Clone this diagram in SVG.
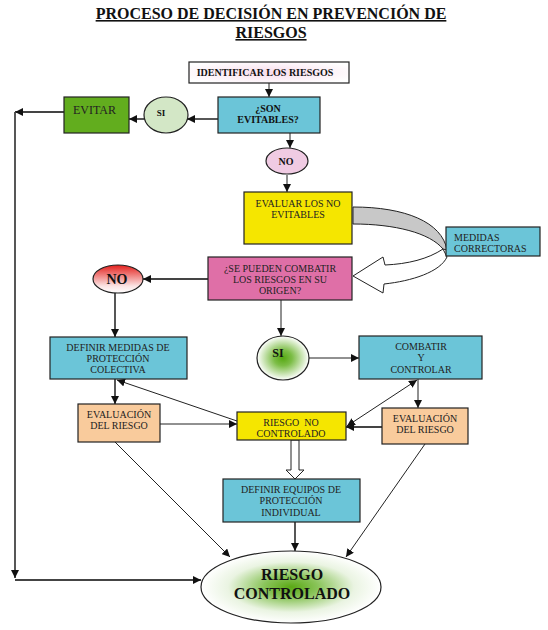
<svg xmlns="http://www.w3.org/2000/svg" width="548" height="630" viewBox="0 0 548 630">
<defs>
<style>
.t{font-family:"Liberation Serif","Times New Roman",serif;fill:#222;text-anchor:middle;font-size:10px}
.b{font-weight:bold;fill:#111}
.box{stroke:#222;stroke-width:1.2}
.ln{fill:none;stroke:#222;stroke-width:1}
.lg{fill:none;stroke:#444;stroke-width:1.8}
</style>
<marker id="ah" viewBox="0 0 10 10" refX="10" refY="5" markerWidth="8" markerHeight="8" markerUnits="userSpaceOnUse" orient="auto-start-reverse"><path d="M0,0 L10,5 L0,10 Z" fill="#111"/></marker>
<linearGradient id="gRed" x1="0" y1="0" x2="0" y2="1"><stop offset="0" stop-color="#e4201c"/><stop offset="0.75" stop-color="#fbe4e4"/><stop offset="1" stop-color="#ffffff"/></linearGradient>
<radialGradient id="gGreen" cx="0.5" cy="0.5" r="0.5"><stop offset="0" stop-color="#56a812"/><stop offset="0.35" stop-color="#7cbd46"/><stop offset="1" stop-color="#ffffff"/></radialGradient>
<radialGradient id="gGreen2" cx="0.5" cy="0.5" r="0.5"><stop offset="0" stop-color="#5aa814"/><stop offset="0.3" stop-color="#8ac45a"/><stop offset="0.7" stop-color="#eaf4e2"/><stop offset="1" stop-color="#ffffff"/></radialGradient>
<radialGradient id="gPink" cx="0.5" cy="0.5" r="0.6"><stop offset="0" stop-color="#f8dcec"/><stop offset="1" stop-color="#ffffff"/></radialGradient>
</defs>
<rect width="548" height="630" fill="#fff"/>

<g id="title">
<text class="t b" x="271" y="19" style="font-size:16px;text-decoration:underline">PROCESO DE DECISIÓN EN PREVENCIÓN DE</text>
<text class="t b" x="271" y="38" style="font-size:16px;text-decoration:underline">RIESGOS</text>
</g>

<g id="connectors">
<line class="ln" x1="269" y1="83" x2="269" y2="97" marker-end="url(#ah)"/>
<line class="lg" x1="218" y1="119" x2="187" y2="119" marker-end="url(#ah)"/>
<line class="lg" x1="144" y1="119" x2="129" y2="119" marker-end="url(#ah)"/>
<line class="lg" x1="64" y1="112" x2="15" y2="112" marker-end="url(#ah)"/>
<line class="lg" x1="15" y1="112" x2="15" y2="578" marker-end="url(#ah)"/>
<line class="lg" x1="15" y1="580" x2="201" y2="580" marker-end="url(#ah)"/>
<line class="ln" x1="290" y1="133" x2="290" y2="148" marker-end="url(#ah)"/>
<line class="ln" x1="287" y1="175" x2="287" y2="192" marker-end="url(#ah)"/>
<line class="lg" x1="208" y1="279" x2="143" y2="279" marker-end="url(#ah)"/>
<line class="lg" x1="115" y1="293" x2="115" y2="337" marker-end="url(#ah)"/>
<line class="ln" x1="281" y1="300" x2="281" y2="336" marker-end="url(#ah)"/>
<line class="ln" x1="309" y1="358" x2="359" y2="358" marker-end="url(#ah)"/>
<line class="ln" x1="418" y1="379" x2="418" y2="408" marker-end="url(#ah)"/>
<line class="ln" x1="417" y1="380" x2="347" y2="426" marker-start="url(#ah)" marker-end="url(#ah)"/>
<line class="lg" x1="382" y1="427" x2="346" y2="427" marker-end="url(#ah)"/>
<line class="lg" x1="115" y1="379" x2="115" y2="404" marker-end="url(#ah)"/>
<line class="ln" x1="160" y1="424" x2="237" y2="424" marker-end="url(#ah)"/>
<line class="ln" x1="237" y1="421" x2="117" y2="380" marker-end="url(#ah)"/>
<line class="ln" x1="115" y1="442" x2="230" y2="557" marker-end="url(#ah)"/>
<line class="ln" x1="425" y1="444" x2="346" y2="557" marker-end="url(#ah)"/>
<line class="lg" x1="295" y1="522" x2="295" y2="551" marker-end="url(#ah)"/>
<path d="M291,440 L299,440 L299,470 L304,470 L295,479 L286,470 L291,470 Z" fill="#fff" stroke="#222" stroke-width="1"/>
<path d="M353,207 C405,207 442,222 447,250 L443,249 C430,233 395,224 353,224 Z" fill="#c8c8c8" stroke="#222" stroke-width="1"/>
<path d="M443,249 C428,259 408,264 385,265 L383,257 L353,276 L383,293 L384,284 C412,281 440,272 447,257 Z" fill="#fff" stroke="#222" stroke-width="1"/>
</g>

<g id="identificar">
<rect class="box" x="189" y="62" width="160" height="21" fill="url(#gPink)"/>
<text class="t b" x="265" y="76">IDENTIFICAR LOS RIESGOS</text>
</g>
<g id="son">
<rect class="box" x="218" y="97" width="102" height="36" fill="#6bc5d8"/>
<text class="t b" x="268" y="112">¿SON</text>
<text class="t b" x="268" y="123">EVITABLES?</text>
</g>
<g id="si1">
<ellipse class="box" cx="166" cy="115" rx="22" ry="18" fill="#d3e7c6"/>
<text class="t b" x="161" y="116" style="font-size:9px">SI</text>
</g>
<g id="evitar">
<rect class="box" x="64" y="97" width="65" height="36" fill="#62ad1e"/>
<text class="t" x="73" y="114" style="font-size:12px;text-anchor:start">EVITAR</text>
</g>
<g id="no1">
<ellipse class="box" cx="287" cy="161" rx="21" ry="13" fill="#f0cbe3"/>
<text class="t b" x="286" y="165">NO</text>
</g>
<g id="evaluar">
<rect class="box" x="244" y="192" width="108" height="52" fill="#f5e600"/>
<text class="t" x="298" y="207">EVALUAR LOS NO</text>
<text class="t" x="298" y="218">EVITABLES</text>
</g>
<g id="medidas">
<rect class="box" x="446" y="227" width="94" height="29" fill="#6bc5d8"/>
<text class="t" x="454" y="241" style="text-anchor:start">MEDIDAS</text>
<text class="t" x="454" y="252" style="text-anchor:start">CORRECTORAS</text>
</g>
<g id="combatir-origen">
<rect class="box" x="208" y="257" width="144" height="43" fill="#df6fa7"/>
<text class="t" x="280" y="272">¿SE PUEDEN COMBATIR</text>
<text class="t" x="280" y="283">LOS RIESGOS EN SU</text>
<text class="t" x="280" y="294">ORIGEN?</text>
</g>
<g id="no2">
<ellipse class="box" cx="118" cy="279" rx="25" ry="14" fill="url(#gRed)"/>
<text class="t b" x="117" y="284" style="font-size:14px">NO</text>
</g>
<g id="si2">
<ellipse class="box" cx="283" cy="358" rx="26" ry="22" fill="url(#gGreen)"/>
<text class="t b" x="278" y="357" style="font-size:12px">SI</text>
</g>
<g id="colectiva">
<rect class="box" x="50" y="337" width="137" height="42" fill="#6bc5d8"/>
<text class="t" x="118" y="351">DEFINIR MEDIDAS DE</text>
<text class="t" x="118" y="362">PROTECCIÓN</text>
<text class="t" x="118" y="373">COLECTIVA</text>
</g>
<g id="controlar">
<rect class="box" x="359" y="336" width="123" height="43" fill="#6bc5d8"/>
<text class="t" x="421" y="350">COMBATIR</text>
<text class="t" x="421" y="361">Y</text>
<text class="t" x="421" y="373">CONTROLAR</text>
</g>
<g id="eval-izq">
<rect class="box" x="78" y="404" width="82" height="38" fill="#f9cb9c"/>
<text class="t" x="119" y="418">EVALUACIÓN</text>
<text class="t" x="119" y="429">DEL RIESGO</text>
</g>
<g id="eval-der">
<rect class="box" x="382" y="408" width="86" height="36" fill="#f9cb9c"/>
<text class="t" x="425" y="422">EVALUACIÓN</text>
<text class="t" x="425" y="433">DEL RIESGO</text>
</g>
<g id="no-controlado">
<rect class="box" x="237" y="412" width="109" height="28" fill="#f5e600"/>
<text class="t" x="291" y="426" style="white-space:pre">RIESGO  NO</text>
<text class="t" x="291" y="437">CONTROLADO</text>
</g>
<g id="individual">
<rect class="box" x="223" y="479" width="137" height="43" fill="#6bc5d8"/>
<text class="t" x="291" y="493">DEFINIR EQUIPOS DE</text>
<text class="t" x="291" y="504">PROTECCIÓN</text>
<text class="t" x="291" y="516">INDIVIDUAL</text>
</g>
<g id="controlado">
<ellipse class="box" cx="291" cy="587" rx="90" ry="36" fill="url(#gGreen2)"/>
<text class="t b" x="292" y="580" style="font-size:16px">RIESGO</text>
<text class="t b" x="292" y="599" style="font-size:16px">CONTROLADO</text>
</g>
</svg>
